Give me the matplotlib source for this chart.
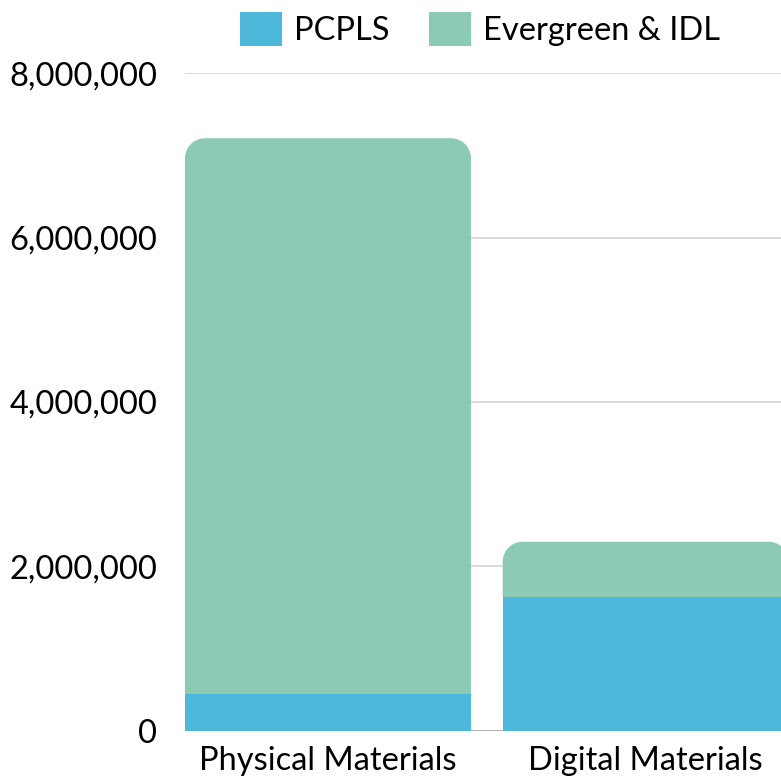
import matplotlib
matplotlib.use("Agg")
import matplotlib.pyplot as plt
from matplotlib.path import Path
from matplotlib.patches import PathPatch, Patch
from matplotlib.ticker import FuncFormatter

plt.rcParams["font.family"] = ["Lato", "DejaVu Sans"]

# ----- data ----------------------------------------------------------
categories = ["Physical Materials", "Digital Materials"]
pcpls = [443000, 1623000]
evergreen_idl = [6767000, 677000]
series_names = ["PCPLS", "Evergreen & IDL"]
y_ticks = [0, 2000000, 4000000, 6000000, 8000000]

BLUE = "#4EB8DA"
GREEN = "#8BCBB3"


def rounded_top(x, y, w, h, rx, ry):
    """Rectangle path with the two top corners rounded (data units)."""
    k = 0.5523
    verts = [
        (x, y), (x + w, y), (x + w, y + h - ry),
        (x + w, y + h - ry * (1 - k)), (x + w - rx * (1 - k), y + h), (x + w - rx, y + h),
        (x + rx, y + h),
        (x + rx * (1 - k), y + h), (x, y + h - ry * (1 - k)), (x, y + h - ry),
        (x, y),
    ]
    codes = [Path.MOVETO, Path.LINETO, Path.LINETO,
             Path.CURVE4, Path.CURVE4, Path.CURVE4,
             Path.LINETO,
             Path.CURVE4, Path.CURVE4, Path.CURVE4,
             Path.CLOSEPOLY]
    return Path(verts, codes)


fig = plt.figure(figsize=(7.81, 7.80), dpi=100)
ax = fig.add_axes([185 / 781, 49.3 / 780, 1 - 185 / 781, 657.4 / 780])

x = range(len(categories))
bw = 0.9
ax.bar(x, pcpls, width=bw, color=BLUE, zorder=3)
tops = ax.bar(x, evergreen_idl, width=bw, bottom=pcpls, color=GREEN, zorder=2)

ax.set_xlim(-0.45, 1.426)
ax.set_ylim(0, 8000000)

# swap the top segments for rounded-corner versions (~20 px radius)
rx = 20 / (781 - 185) * (1.426 + 0.45)
ry = 20 / 657.4 * 8000000
for r in tops:
    r.set_visible(False)
    ax.add_patch(PathPatch(rounded_top(r.get_x(), r.get_y(), r.get_width(),
                                       r.get_height(), rx, ry),
                           facecolor=GREEN, edgecolor="none", zorder=2))

ax.set_yticks(y_ticks)
ax.yaxis.set_major_formatter(FuncFormatter(lambda v, _: f"{int(v):,}"))
ax.set_xticks(list(x))
ax.set_xticklabels(categories)
ax.tick_params(axis="y", length=0, pad=20, labelsize=23.5)
ax.tick_params(axis="x", length=0, pad=11, labelsize=23.5)

for s in ax.spines.values():
    s.set_visible(False)
ax.grid(axis="y", color="#d6d6d6", linewidth=1.2, zorder=0)
ax.axhline(0, color="#a8a8a8", linewidth=1.2, zorder=1)
ax.set_axisbelow(True)

handles = [Patch(facecolor=BLUE, edgecolor="none"),
           Patch(facecolor=GREEN, edgecolor="none")]
fig.legend(handles, series_names, loc="center", ncol=2, frameon=False,
           bbox_to_anchor=(480 / 781, 1 - 29 / 780), fontsize=23.5,
           handlelength=1.29, handleheight=1.23, handletextpad=0.37,
           columnspacing=1.2, borderaxespad=0)

fig.savefig("out.png", dpi=100)
